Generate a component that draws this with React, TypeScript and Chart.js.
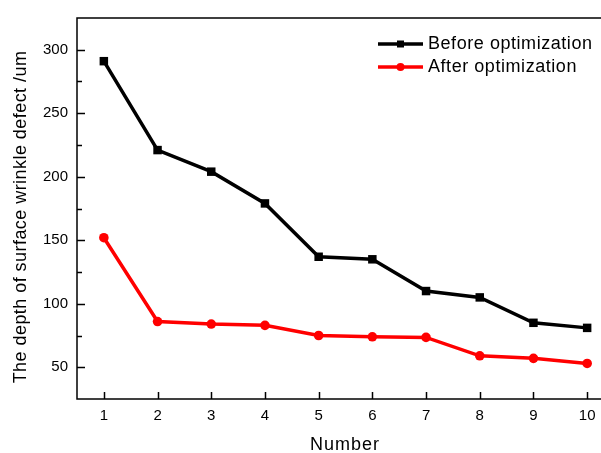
import React, { useEffect, useRef } from "react";
import { Chart, registerables } from "chart.js";

Chart.register(...registerables);

// Sample numbers along the x axis
const categories = ["1", "2", "3", "4", "5", "6", "7", "8", "9", "10"];
// Wrinkle defect depth (um) before and after optimization
const beforeValues = [291, 221, 204, 179, 137, 135, 110, 105, 85, 81];
const afterValues = [152, 86, 84, 83, 75, 74, 73.5, 59, 57, 53];
// Major y tick labels
const yTickValues = [50, 100, 150, 200, 250, 300];

const seriesNames = ["Before optimization", "After optimization"];
const xTitle = "Number";
const yTitle = "The depth of surface wrinkle defect /um";

const FONT = "'Liberation Sans', Arial, sans-serif";

function drawText(
  ctx: CanvasRenderingContext2D,
  text: string,
  x: number,
  y: number,
  size: number,
  spacing: number,
  align: CanvasTextAlign
) {
  ctx.font = `${size}px ${FONT}`;
  (ctx as any).letterSpacing = `${spacing}px`;
  ctx.textAlign = align;
  ctx.textBaseline = "middle";
  ctx.fillStyle = "#000";
  ctx.fillText(text, x, y);
  (ctx as any).letterSpacing = "0px";
}

// Draws the frame, inward tick marks, axis titles and the in-plot legend
const decorPlugin = {
  id: "decor",
  afterDraw(chart: any) {
    const { ctx, chartArea: a, scales } = chart;
    const x = scales.x;
    const y = scales.y;
    ctx.save();
    ctx.strokeStyle = "#000";
    ctx.lineWidth = 1.5;
    ctx.strokeRect(a.left, a.top, a.right - a.left, a.bottom - a.top);

    ctx.beginPath();
    x.ticks.forEach((_: any, i: number) => {
      const px = Math.round(x.getPixelForTick(i)) + 0.5;
      ctx.moveTo(px, a.bottom);
      ctx.lineTo(px, a.bottom - 7);
    });
    const vals: number[] = y.ticks.map((t: any) => t.value);
    vals.forEach((v, i) => {
      const py = Math.round(y.getPixelForValue(v)) + 0.5;
      ctx.moveTo(a.left, py);
      ctx.lineTo(a.left + 8, py);
      if (i < vals.length - 1) {
        const my = Math.round(y.getPixelForValue((v + vals[i + 1]) / 2)) + 0.5;
        ctx.moveTo(a.left, my);
        ctx.lineTo(a.left + 5, my);
      }
    });
    ctx.stroke();

    // x axis title
    drawText(ctx, xTitle, 345, 445, 18, 1, "center");

    // y axis title
    ctx.save();
    ctx.translate(21, 217);
    ctx.rotate(-Math.PI / 2);
    drawText(ctx, yTitle, 0, 0, 18, 0.45, "center");
    ctx.restore();

    // legend
    const rows = [
      { y: 44, color: "#000000", shape: "rect" },
      { y: 67, color: "#ff0000", shape: "circle" },
    ];
    rows.forEach((r, i) => {
      ctx.strokeStyle = r.color;
      ctx.fillStyle = r.color;
      ctx.lineWidth = 3.5;
      ctx.beginPath();
      ctx.moveTo(378, r.y);
      ctx.lineTo(423, r.y);
      ctx.stroke();
      ctx.beginPath();
      if (r.shape === "rect") {
        ctx.rect(400.5 - 3.5, r.y - 3.5, 7, 7);
      } else {
        ctx.arc(400.5, r.y, 4, 0, Math.PI * 2);
      }
      ctx.fill();
      drawText(ctx, seriesNames[i], 428, r.y, 18, 0.55, "left");
    });
    ctx.restore();
  },
};

export default function App() {
  const canvasRef = useRef<HTMLCanvasElement | null>(null);

  useEffect(() => {
    const canvas = canvasRef.current;
    if (!canvas) return;
    const chart = new Chart(canvas, {
      type: "line",
      data: {
        labels: categories,
        datasets: [
          {
            label: seriesNames[0],
            data: beforeValues,
            borderColor: "#000000",
            backgroundColor: "#000000",
            borderWidth: 3.5,
            pointBorderWidth: 0,
            pointStyle: "rect",
            pointRadius: 6,
            pointHoverRadius: 6,
            tension: 0,
          },
          {
            label: seriesNames[1],
            data: afterValues,
            borderColor: "#ff0000",
            backgroundColor: "#ff0000",
            borderWidth: 3.5,
            pointBorderWidth: 0,
            pointStyle: "circle",
            pointRadius: 4.8,
            pointHoverRadius: 4.8,
            tension: 0,
          },
        ],
      },
      options: {
        responsive: false,
        animation: false,
        devicePixelRatio: 1,
        layout: { padding: { top: 12, right: 6, left: 0, bottom: 0 } },
        plugins: {
          legend: { display: false },
          tooltip: { enabled: false },
        },
        scales: {
          x: {
            type: "category",
            offset: true,
            grid: { display: false, drawTicks: false },
            border: { display: false },
            ticks: {
              color: "#000",
              font: { family: FONT, size: 15 },
              padding: 8,
              maxRotation: 0,
            },
            afterFit: (s: any) => {
              s.height = 54;
            },
          },
          y: {
            type: "linear",
            min: 25,
            max: 325,
            grid: { display: false, drawTicks: false },
            border: { display: false },
            ticks: {
              color: "#000",
              font: { family: FONT, size: 15 },
              padding: 9,
            },
            afterBuildTicks: (s: any) => {
              s.ticks = yTickValues.map((v) => ({ value: v }));
            },
            afterFit: (s: any) => {
              s.width = 77;
            },
          },
        },
      },
      plugins: [decorPlugin],
    });
    return () => chart.destroy();
  }, []);

  return (
    <div
      style={{
        position: "fixed",
        left: 0,
        top: 0,
        width: 601,
        height: 453,
        overflow: "hidden",
        background: "#fff",
      }}
    >
      <canvas ref={canvasRef} width={620} height={453} style={{ display: "block" }} />
    </div>
  );
}
